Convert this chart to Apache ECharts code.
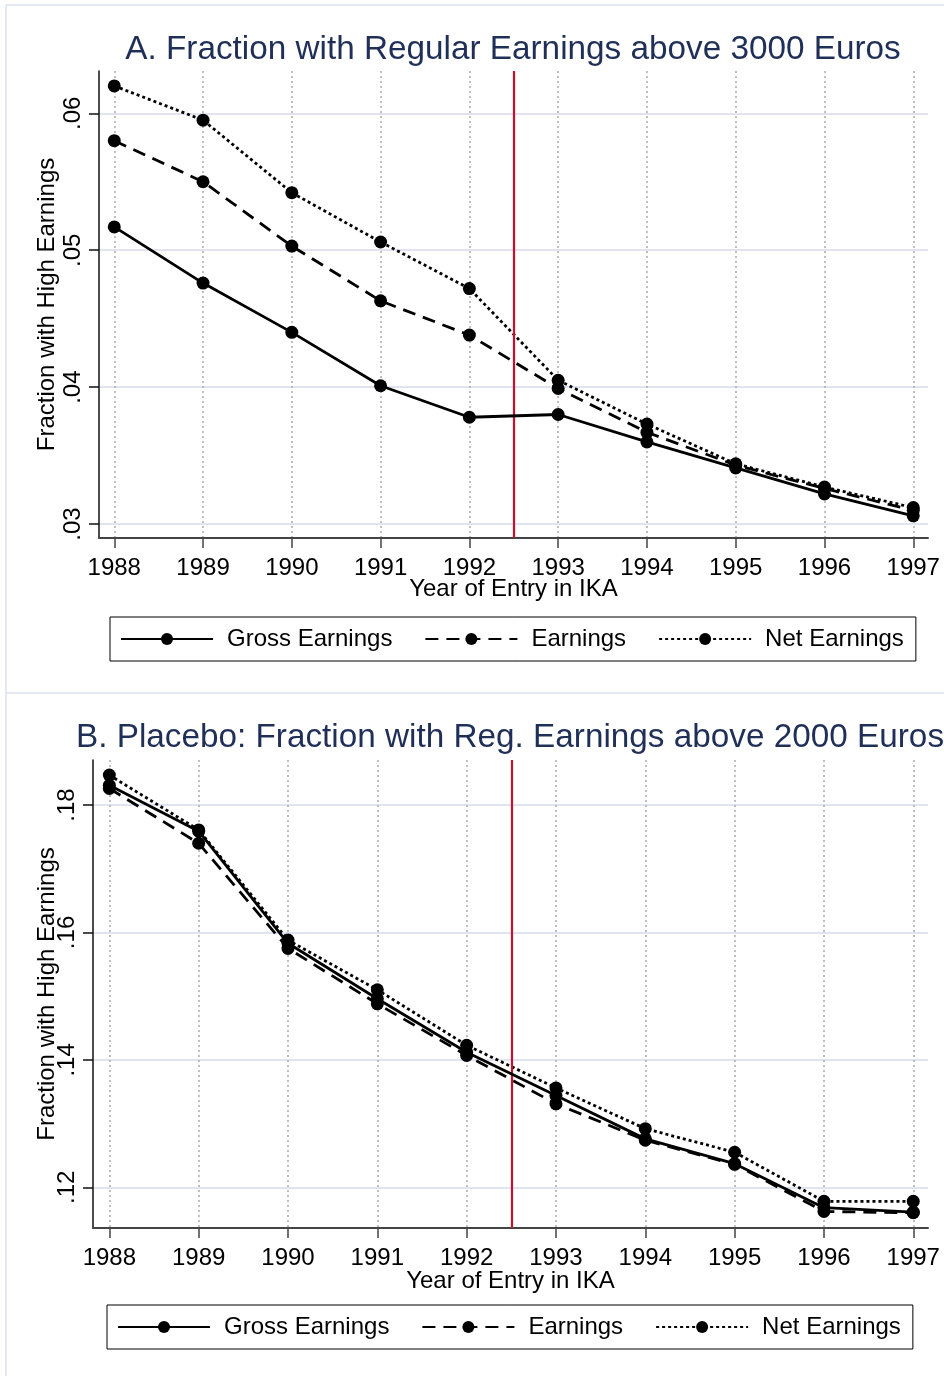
<!DOCTYPE html>
<html><head><meta charset="utf-8">
<script src="https://cdn.jsdelivr.net/npm/echarts@6/dist/echarts.min.js"></script>
<style>html,body{margin:0;padding:0;background:#fff}#c{width:944px;height:1376px}</style>
</head><body><div id="c"></div>
<script>
// ---- data ----
const years = [1988, 1989, 1990, 1991, 1992, 1993, 1994, 1995, 1996, 1997];
const xTickLabels = ['1988','1989','1990','1991','1992','1993','1994','1995','1996','1997'];
const seriesNames = ['Gross Earnings', 'Earnings', 'Net Earnings'];

const grossA    = [0.0517, 0.0476, 0.0440, 0.0401, 0.0378, 0.0380, 0.0360, 0.0341, 0.0322, 0.0306];
const earningsA = [0.0580, 0.0550, 0.0503, 0.0463, 0.0438, 0.0399, 0.0367, 0.0343, 0.0326, 0.0310];
const netA      = [0.0620, 0.0595, 0.0542, 0.0506, 0.0472, 0.0405, 0.0373, 0.0344, 0.0327, 0.0312];

const grossB    = [0.1831, 0.1759, 0.1583, 0.1496, 0.1412, 0.1344, 0.1276, 0.1237, 0.1168, 0.1161];
const earningsB = [0.1826, 0.1740, 0.1575, 0.1488, 0.1407, 0.1331, 0.1274, 0.1236, 0.1162, 0.1160];
const netB      = [0.1847, 0.1761, 0.1588, 0.1510, 0.1423, 0.1356, 0.1292, 0.1255, 0.1178, 0.1178];

const yTicksA = [0.03, 0.04, 0.05, 0.06];
const yTickLabelsA = ['.03', '.04', '.05', '.06'];
const yTicksB = [0.12, 0.14, 0.16, 0.18];
const yTickLabelsB = ['.12', '.14', '.16', '.18'];

const cutoffYear = 1992.5;
const titleA = 'A. Fraction with Regular Earnings above 3000 Euros';
const titleB = 'B. Placebo: Fraction with Reg. Earnings above 2000 Euros';
const xName = 'Year of Entry in IKA';
const yName = 'Fraction with High Earnings';

// ---- chart ----
const FONT = '"Liberation Sans", Arial, Helvetica, sans-serif';
const FS = 24;
const pairs = (vals) => years.map((y, i) => [y, vals[i]]);
const lookup = (ticks, labels) => (v) => {
  const i = ticks.findIndex(t => Math.abs(t - v) < 1e-9);
  return i >= 0 ? labels[i] : '';
};
const lineTypes = ['solid', [13, 8], [3, 3]];

function xAxisCfg(gi, min, max, margin, gap) {
  return {
    gridIndex: gi, type: 'value', min: min, max: max,
    axisLine: { show: true, onZero: false, lineStyle: { color: '#444', width: 2 } },
    axisTick: { show: true, length: 10, customValues: years, lineStyle: { color: '#444', width: 1.5 } },
    axisLabel: { customValues: years, formatter: lookup(years, xTickLabels), fontSize: FS, color: '#000', margin: margin, fontFamily: FONT },
    splitLine: { show: true, lineStyle: { color: '#aaaaaa', type: [2, 3], width: 1.5 } },
    name: xName, nameLocation: 'middle', nameGap: gap, nameMoveOverlap: false,
    nameTextStyle: { fontSize: FS, color: '#000', fontFamily: FONT }
  };
}
function yAxisCfg(gi, min, max, ticks, labels, gap) {
  return {
    gridIndex: gi, type: 'value', min: min, max: max,
    axisLine: { show: true, onZero: false, lineStyle: { color: '#111', width: 1.5 } },
    axisTick: { show: true, length: 10, customValues: ticks, lineStyle: { color: '#111', width: 1.5 } },
    axisLabel: { customValues: ticks, rotate: 90, formatter: lookup(ticks, labels), fontSize: FS, color: '#000', margin: 14, fontFamily: FONT },
    splitLine: { show: true, lineStyle: { color: '#dfe4f0', width: 2 } },
    name: yName, nameLocation: 'middle', nameGap: gap, nameRotate: 90, nameMoveOverlap: false,
    nameTextStyle: { fontSize: FS, color: '#000', fontFamily: FONT }
  };
}
function makeSeries(gi, dataList) {
  return dataList.map((vals, k) => {
    const s = {
      name: seriesNames[k], type: 'line', xAxisIndex: gi, yAxisIndex: gi,
      data: pairs(vals), symbol: 'circle', symbolSize: 13, z: 5 - k,
      lineStyle: { color: '#000', width: 2.8, type: lineTypes[k] },
      itemStyle: { color: '#000' },
      emphasis: { disabled: true }
    };
    if (k === 0) {
      s.markLine = {
        silent: true, symbol: 'none', label: { show: false },
        lineStyle: { color: '#c8102e', width: 2.2, type: 'solid' },
        emphasis: { disabled: true },
        data: [{ xAxis: cutoffYear }]
      };
    }
    return s;
  });
}
function legendCfg(left, top) {
  return {
    left: left, top: top, orient: 'horizontal',
    data: seriesNames, selectedMode: false,
    itemWidth: 92, itemHeight: 15, itemGap: 32,
    padding: [10, 12, 10, 10],
    borderColor: '#000', borderWidth: 1,
    textStyle: { fontSize: FS, color: '#000', fontFamily: FONT, padding: [0, 0, 0, 9] }
  };
}

const chart = echarts.init(document.getElementById('c'), null, { renderer: 'canvas' });
chart.setOption({
  animation: false,
  backgroundColor: '#fff',
  textStyle: { fontFamily: FONT },
  graphic: [
    { type: 'rect', shape: { x: 6, y: 5, width: 944, height: 688 }, style: { fill: 'none', stroke: '#e4e8f3', lineWidth: 2 }, silent: true, z: -1 },
    { type: 'rect', shape: { x: 6, y: 693, width: 944, height: 700 }, style: { fill: 'none', stroke: '#e4e8f3', lineWidth: 2 }, silent: true, z: -1 }
  ],
  title: [
    { text: titleA, left: 508, top: 28, textAlign: 'center', textStyle: { fontSize: 33.3, fontWeight: 'normal', color: '#1f2f57', fontFamily: FONT } },
    { text: titleB, left: 505, top: 716, textAlign: 'center', textStyle: { fontSize: 33.3, fontWeight: 'normal', color: '#1f2f57', fontFamily: FONT } }
  ],
  legend: [legendCfg(110, 617), legendCfg(107, 1305)],
  grid: [
    { left: 99, top: 71, width: 829, height: 467, containLabel: false, outerBoundsMode: 'none' },
    { left: 93, top: 760, width: 835, height: 468, containLabel: false, outerBoundsMode: 'none' }
  ],
  xAxis: [xAxisCfg(0, 1987.828, 1997.166, 18, 39), xAxisCfg(1, 1987.817, 1997.165, 18.5, 41)],
  yAxis: [
    yAxisCfg(0, 0.02898, 0.06309, yTicksA, yTickLabelsA, 40),
    yAxisCfg(1, 0.11361, 0.18707, yTicksB, yTickLabelsB, 34)
  ],
  series: [].concat(makeSeries(0, [grossA, earningsA, netA]), makeSeries(1, [grossB, earningsB, netB]))
});
</script></body></html>
